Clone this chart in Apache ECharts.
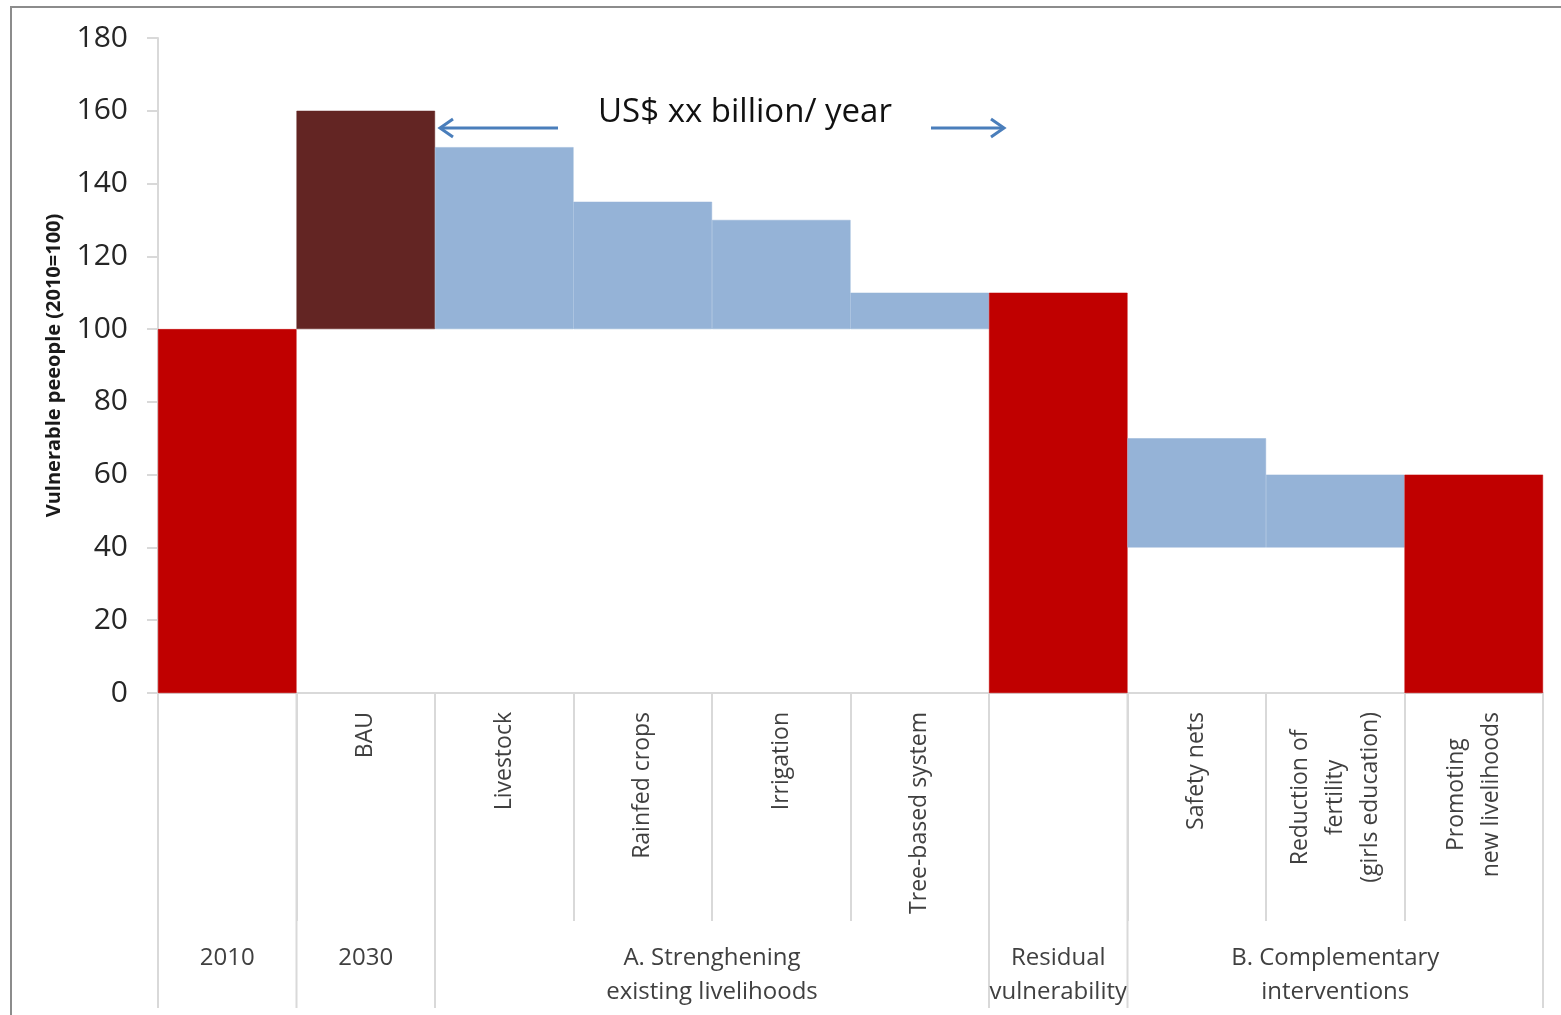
<!DOCTYPE html>
<html>
<head>
<meta charset="utf-8">
<script src="https://cdn.jsdelivr.net/npm/echarts@6/dist/echarts.min.js"></script>
<style>
  html, body { margin: 0; padding: 0; background: #ffffff; }
  #chart { width: 1561px; height: 1015px; }
</style>
</head>
<body>
<div id="chart"></div>
<script>
// Categories of the waterfall, left to right
const categories = ['2010', 'BAU', 'Livestock', 'Rainfed crops', 'Irrigation', 'Tree-based system',
  'Residual', 'Safety nets', 'Reduction of fertility', 'Promoting new livelihoods'];
// Text printed under each bar (empty where only the group label is shown)
const tickLabels = ['', 'BAU', 'Livestock', 'Rainfed crops', 'Irrigation', 'Tree-based system',
  '', 'Safety nets', 'Reduction of\nfertility\n(girls education)', 'Promoting\nnew livelihoods'];
// Floating bars: lower and upper edge of each bar (index, 2010 = 100)
const barBottom = [0, 100, 100, 100, 100, 100, 0, 40, 40, 0];
const barTop = [100, 160, 150, 135, 130, 110, 110, 70, 60, 60];
// Bar role: level totals, business-as-usual increase, reduction steps
const barKind = ['level', 'bau', 'step', 'step', 'step', 'step', 'level', 'step', 'step', 'level'];
// Second-level axis groups (first and last category index of each group)
const groupNames = ['2010', '2030', 'A. Strenghening\nexisting livelihoods', 'Residual\nvulnerability',
  'B. Complementary\ninterventions'];
const groupStart = [0, 1, 2, 6, 7];
const groupEnd = [0, 1, 5, 6, 9];
// Value axis
const yMin = 0, yMax = 180, yStep = 20;

const FONT = '"Open Sans", "Noto Sans", sans-serif';
const TEXT = '#404040';
const GRID_LINE = '#d9d9d9';
const kindColor = { level: '#C00000', bau: '#632523', step: '#95B3D7' };

const chart = echarts.init(document.getElementById('chart'), null, { renderer: 'canvas' });

const lastGroup = groupStart.length - 1;

const option = {
  backgroundColor: '#ffffff',
  animation: false,
  grid: { left: 158, right: 18, top: 38, bottom: 322, containLabel: false },
  xAxis: {
    type: 'category',
    data: categories,
    boundaryGap: true,
    axisLine: { show: true, lineStyle: { color: GRID_LINE, width: 2 } },
    axisTick: { show: true, interval: 0, alignWithLabel: false, length: 228,
      lineStyle: { color: GRID_LINE, width: 2 } },
    axisLabel: {
      interval: 0,
      rotate: 90,
      margin: 19,
      color: TEXT,
      fontFamily: FONT,
      fontSize: 23,
      formatter: function (value, index) {
        const t = tickLabels[index];
        if (!t) return '';
        return t.split('\n').map(function (s) { return '{c|' + s + '}'; }).join('\n');
      },
      rich: {
        c: { align: 'center', fontFamily: FONT, fontSize: 23, lineHeight: 35, color: TEXT }
      }
    },
    splitLine: { show: false }
  },
  yAxis: {
    type: 'value',
    min: yMin,
    max: yMax,
    interval: yStep,
    name: 'Vulnerable peeople (2010=100)',
    nameLocation: 'middle',
    nameRotate: 90,
    nameGap: 94,
    nameTextStyle: { fontFamily: FONT, fontSize: 20, fontWeight: 'bold', color: '#1a1a1a' },
    axisLine: { show: true, lineStyle: { color: GRID_LINE, width: 2 } },
    axisTick: { show: true, length: 11, lineStyle: { color: GRID_LINE, width: 2 } },
    axisLabel: { margin: 30, color: '#262626', fontFamily: FONT, fontSize: 30 },
    splitLine: { show: false }
  },
  series: [
    {
      name: 'base',
      type: 'bar',
      stack: 'w',
      silent: true,
      barWidth: '100%',
      barCategoryGap: 0,
      itemStyle: { color: 'rgba(0,0,0,0)' },
      data: barBottom
    },
    {
      name: 'value',
      type: 'bar',
      stack: 'w',
      barWidth: '100%',
      barCategoryGap: 0,
      data: barTop.map(function (t, i) {
        const c = kindColor[barKind[i]];
        return { value: t - barBottom[i],
          itemStyle: { color: c, borderColor: c, borderWidth: 0.5 } };
      })
    },
    {
      // group separators and group labels of the second axis level
      name: 'groups',
      type: 'custom',
      silent: true,
      clip: false,
      encode: { x: 0, y: 1 },
      data: groupStart.map(function (s, k) { return [s, groupEnd[k]]; }),
      renderItem: function (params, api) {
        const k = params.dataIndex;
        const s = api.value(0), e = api.value(1);
        const bw = api.size([1, 0])[0];
        const p0 = api.coord([s, 0]);
        const xl = p0[0] - bw / 2;
        const xr = api.coord([e, 0])[0] + bw / 2;
        const y0 = p0[1];
        const children = [
          { type: 'line', shape: { x1: xl, y1: y0, x2: xl, y2: y0 + 315 },
            style: { stroke: GRID_LINE, lineWidth: 2 } }
        ];
        if (k === lastGroup) {
          children.push({ type: 'line', shape: { x1: xr, y1: y0, x2: xr, y2: y0 + 315 },
            style: { stroke: GRID_LINE, lineWidth: 2 } });
        }
        children.push({
          type: 'text',
          style: {
            text: groupNames[k], x: (xl + xr) / 2, y: y0 + 248,
            align: 'center', verticalAlign: 'top',
            fontFamily: FONT, fontSize: 24, lineHeight: 34, fill: TEXT
          }
        });
        return { type: 'group', children: children };
      }
    }
  ],
  graphic: [
    { type: 'rect', shape: { x: 11, y: 7, width: 1700, height: 1200 },
      style: { fill: 'none', stroke: '#8c8c8c', lineWidth: 2 }, silent: true },
    { type: 'text', x: 745, y: 113,
      style: { text: 'US$ xx billion/ year', align: 'center', verticalAlign: 'middle',
        fontFamily: FONT, fontSize: 33, fill: '#111111' } },
    { type: 'line', shape: { x1: 441, y1: 128, x2: 558, y2: 128 },
      style: { stroke: '#4A7EBB', lineWidth: 3 } },
    { type: 'polyline', shape: { points: [[453, 119], [440, 128], [453, 137]] },
      style: { stroke: '#4A7EBB', lineWidth: 3, fill: 'none' } },
    { type: 'line', shape: { x1: 931, y1: 128, x2: 1003, y2: 128 },
      style: { stroke: '#4A7EBB', lineWidth: 3 } },
    { type: 'polyline', shape: { points: [[991, 119], [1004, 128], [991, 137]] },
      style: { stroke: '#4A7EBB', lineWidth: 3, fill: 'none' } }
  ]
};

chart.setOption(option);
</script>
</body>
</html>
